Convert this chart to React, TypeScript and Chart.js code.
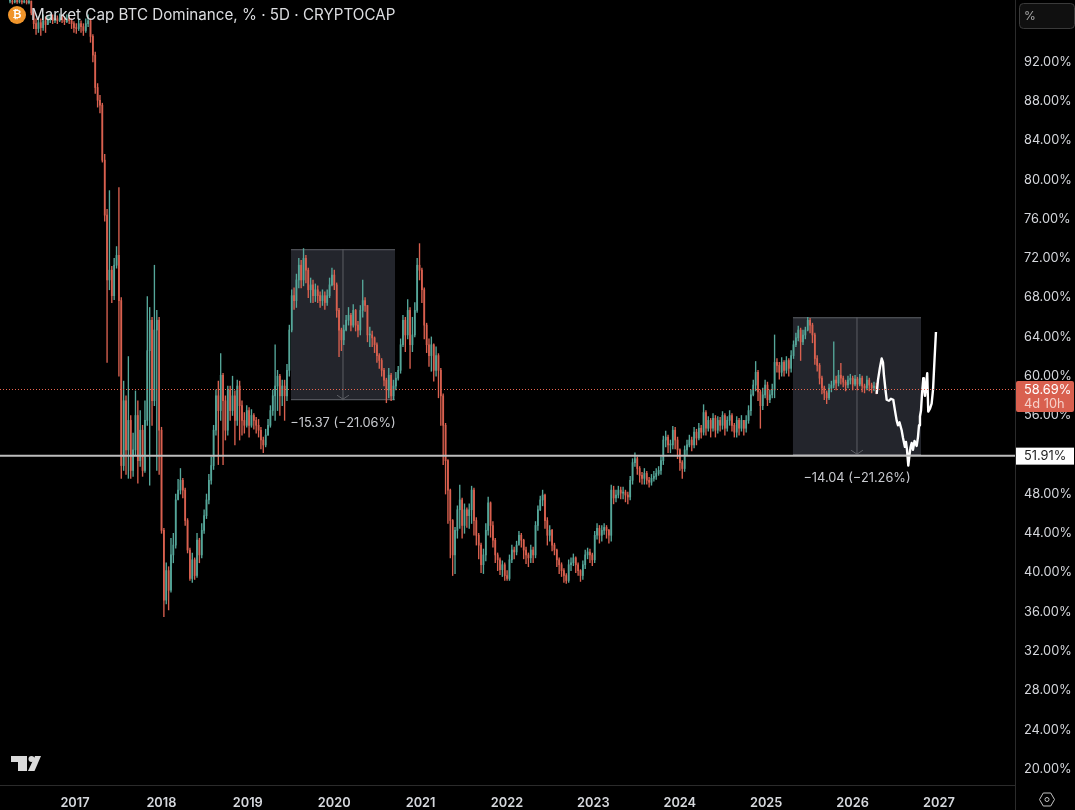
import React, { useEffect, useRef } from 'react';
import { Chart, registerables } from 'chart.js';

Chart.register(...registerables);

// 10-day candles, first one at firstCandleYear
const firstCandleYear = 2016.248;
const candleStep = 10 / 365;

const closes = [
  98.2, 98.1, 98.25, 98.15, 98.2, 98.1, 98.2, 98.05, 98.2, 97.0,
  95.9, 95.4, 96.0, 95.5, 96.2, 95.8, 96.3, 96.5, 96.2, 96.4,
  96.2, 96.5, 96.3, 96.1, 96.4, 96.2, 95.9, 95.5, 95.4, 95.9,
  95.6, 95.2, 95.9, 96.2, 94.6, 92.7, 89.4, 88.1, 87.6, 82.0,
  76.4, 69.8, 70.8, 68.2, 71.3, 72.3, 67.7, 50.9, 57.5, 52.5,
  55.5, 50.4, 52.5, 56.0, 51.4, 54.5, 50.4, 55.5, 62.6, 65.7,
  57.5, 64.7, 65.7, 54.5, 44.3, 37.2, 40.2, 38.2, 41.8, 42.8,
  47.4, 48.4, 49.4, 48.4, 45.3, 42.3, 39.4, 41.3, 39.7, 43.3,
  41.8, 44.3, 45.8, 47.4, 49.4, 50.9, 54.5, 58.0, 56.5, 60.1,
  57.5, 54.5, 58.6, 56.5, 58.0, 55.5, 59.0, 57.0, 55.5, 55.0,
  56.5, 55.0, 56.0, 55.5, 55.0, 54.5, 53.5, 53.0, 54.0, 55.0,
  56.5, 58.0, 59.0, 60.0, 58.0, 59.0, 58.0, 60.6, 64.7, 68.2,
  67.7, 69.8, 71.3, 69.8, 72.0, 70.8, 68.8, 69.3, 68.2, 68.8,
  68.2, 67.7, 68.2, 67.5, 68.2, 69.3, 70.3, 69.3, 66.7, 64.7,
  63.7, 64.7, 65.7, 66.2, 65.2, 66.7, 65.2, 64.7, 66.7, 67.7,
  67.2, 64.2, 64.2, 63.9, 63.2, 62.1, 61.6, 60.6, 59.6, 58.6,
  60.1, 58.0, 59.0, 59.8, 60.6, 63.2, 65.7, 64.2, 66.7, 63.2,
  64.2, 66.7, 71.3, 70.8, 68.8, 65.2, 63.2, 62.1, 63.2, 60.6,
  62.1, 60.6, 58.0, 55.0, 51.4, 48.4, 45.3, 41.8, 44.3, 46.4,
  47.4, 44.8, 46.4, 45.8, 46.4, 48.4, 45.3, 43.8, 42.8, 40.8,
  41.8, 44.3, 47.1, 44.8, 43.3, 41.8, 41.3, 40.3, 40.8, 39.7,
  39.4, 41.3, 42.3, 42.1, 42.8, 43.8, 43.3, 42.3, 41.8, 41.5,
  42.3, 41.8, 44.8, 46.4, 47.4, 47.9, 45.3, 43.8, 44.3, 42.8,
  42.3, 41.3, 40.8, 40.2, 39.7, 39.2, 40.8, 41.0, 41.5, 40.8,
  40.2, 39.7, 40.8, 41.8, 42.1, 41.8, 41.3, 43.8, 44.5, 43.8,
  44.3, 44.6, 44.3, 43.8, 48.4, 47.6, 47.9, 48.4, 48.1, 48.2,
  47.9, 47.7, 49.4, 51.2, 51.6, 50.6, 49.9, 49.6, 50.1, 49.4,
  49.2, 49.6, 49.8, 50.1, 50.4, 51.4, 53.5, 53.8, 53.0, 53.0,
  54.5, 53.5, 52.5, 51.2, 50.6, 52.5, 53.0, 53.5, 53.0, 54.3,
  53.7, 54.7, 54.3, 56.3, 54.7, 55.5, 54.7, 55.7, 54.5, 55.5,
  55.0, 56.0, 54.7, 55.5, 56.0, 55.0, 54.3, 55.5, 54.7, 55.5,
  54.7, 55.5, 56.5, 58.1, 59.1, 60.4, 58.4, 57.0, 58.1, 59.1,
  57.6, 58.1, 58.6, 61.4, 61.1, 60.4, 61.4, 60.6, 61.6, 60.8,
  62.1, 63.2, 63.9, 64.7, 63.5, 64.2, 64.7, 65.7, 65.2, 64.2,
  61.8, 61.1, 59.8, 58.8, 58.3, 57.8, 58.8, 59.1, 59.6, 59.3,
  60.1, 59.8, 59.4, 59.1, 59.6, 59.8, 59.2, 59.7, 59.2, 59.8,
  59.0, 58.8, 59.6, 59.1, 58.8, 59.0, 58.69,
];

const highs = [
  98.31, 98.31, 98.31, 98.31, 98.31, 98.31, 98.31, 98.31, 98.31, 98.2,
  97.2, 96.4, 96.6, 96.4, 96.8, 96.6, 96.7, 96.9, 96.8, 96.8,
  96.7, 96.9, 96.8, 96.6, 96.8, 96.7, 96.4, 96.1, 95.9, 96.4,
  96.2, 95.9, 96.4, 96.8, 96.4, 94.8, 93.0, 89.8, 88.6, 87.8,
  82.6, 77.0, 78.9, 71.2, 72.0, 73.2, 79.2, 68.0, 59.5, 58.0,
  62.0, 56.0, 54.2, 58.5, 57.5, 56.5, 55.0, 57.5, 68.1, 67.0,
  66.0, 71.3, 66.7, 66.0, 54.8, 44.5, 41.0, 40.6, 43.5, 44.0,
  48.0, 49.5, 50.6, 49.6, 48.6, 45.5, 42.5, 42.0, 41.5, 44.0,
  43.5, 45.0, 46.4, 48.0, 50.0, 51.8, 55.0, 58.6, 59.5, 62.3,
  60.3, 58.0, 59.0, 59.0, 60.0, 58.5, 59.6, 59.5, 57.5, 56.3,
  57.0, 56.8, 56.6, 56.2, 55.8, 55.6, 54.8, 53.8, 54.6, 55.6,
  57.0, 58.6, 63.2, 60.6, 60.2, 59.6, 59.6, 61.2, 65.2, 68.8,
  69.0, 70.4, 72.0, 71.8, 73.0, 72.3, 71.0, 70.0, 69.8, 69.4,
  69.2, 68.6, 68.8, 68.6, 68.8, 70.0, 71.0, 70.8, 69.5, 66.9,
  64.9, 65.2, 66.2, 67.0, 66.4, 67.3, 66.8, 65.6, 67.2, 69.8,
  68.0, 67.2, 65.0, 64.6, 64.0, 63.4, 62.3, 61.8, 60.8, 59.8,
  60.8, 60.3, 59.6, 60.4, 61.0, 63.8, 66.2, 66.0, 67.8, 67.0,
  66.0, 67.5, 72.0, 73.5, 71.0, 69.0, 65.4, 63.8, 64.0, 63.3,
  63.0, 62.3, 60.8, 58.2, 55.2, 51.5, 48.5, 45.4, 44.6, 46.8,
  48.9, 47.6, 47.0, 46.6, 47.0, 48.8, 48.6, 45.6, 44.0, 43.0,
  42.4, 45.0, 47.7, 47.2, 45.2, 43.5, 42.0, 41.5, 41.2, 41.0,
  40.2, 41.8, 42.8, 42.6, 43.2, 44.2, 44.0, 43.4, 42.6, 42.0,
  42.8, 42.6, 45.2, 46.8, 47.8, 48.4, 48.0, 45.6, 44.8, 44.4,
  43.0, 42.4, 41.5, 41.0, 40.4, 39.9, 41.3, 41.5, 41.9, 41.6,
  41.0, 40.3, 41.2, 42.3, 42.5, 42.4, 42.0, 44.2, 45.0, 44.8,
  44.8, 45.0, 44.8, 44.4, 48.9, 48.8, 48.4, 48.8, 48.7, 48.7,
  48.4, 48.2, 49.8, 51.6, 52.2, 51.8, 50.8, 50.2, 50.6, 50.3,
  49.7, 50.0, 50.3, 50.6, 50.8, 51.8, 53.9, 54.4, 54.0, 53.5,
  54.9, 54.8, 53.8, 52.6, 51.4, 52.9, 53.5, 54.0, 53.8, 54.8,
  54.6, 55.2, 55.0, 57.1, 56.5, 55.9, 55.7, 56.2, 56.0, 55.9,
  55.8, 56.4, 56.2, 55.9, 56.5, 56.2, 55.2, 55.9, 55.7, 56.0,
  55.5, 56.0, 57.0, 58.6, 59.6, 61.5, 60.6, 58.6, 58.8, 59.6,
  59.4, 58.6, 59.2, 64.2, 61.8, 61.4, 61.9, 61.6, 62.0, 61.8,
  62.6, 63.6, 64.4, 65.1, 64.9, 64.7, 65.0, 66.0, 65.9, 65.4,
  64.4, 62.1, 61.3, 60.0, 59.0, 58.5, 59.2, 59.5, 63.5, 60.0,
  60.6, 61.3, 60.0, 59.6, 60.0, 60.2, 60.0, 60.1, 59.9, 60.2,
  60.0, 59.2, 60.0, 59.8, 59.3, 59.4, 59.3,
];

const lows = [
  98.0, 97.9, 98.0, 97.95, 98.0, 97.9, 98.0, 97.9, 97.9, 96.8,
  95.4, 94.8, 95.0, 94.7, 95.2, 95.0, 95.9, 96.0, 95.9, 96.0,
  95.9, 96.1, 96.0, 95.8, 96.0, 95.9, 95.4, 95.0, 94.9, 95.2,
  95.0, 94.7, 95.0, 95.6, 94.0, 92.0, 88.8, 87.4, 86.8, 81.8,
  75.8, 61.4, 68.8, 67.5, 67.8, 71.0, 60.0, 49.6, 50.4, 50.0,
  49.6, 49.6, 49.8, 52.0, 49.1, 50.8, 49.8, 50.2, 55.0, 48.9,
  55.0, 57.0, 50.4, 50.0, 44.0, 35.5, 36.8, 36.2, 38.0, 41.0,
  42.5, 47.5, 48.0, 47.6, 44.8, 42.0, 39.2, 39.0, 39.3, 39.5,
  41.0, 41.5, 44.0, 45.5, 47.0, 49.0, 50.5, 54.0, 51.0, 55.5,
  51.0, 53.5, 54.0, 55.5, 56.0, 53.0, 55.0, 53.5, 54.0, 54.2,
  54.8, 53.8, 54.8, 54.6, 54.2, 53.8, 52.6, 52.2, 52.8, 54.0,
  54.8, 56.0, 55.5, 56.5, 56.0, 57.0, 55.5, 57.5, 60.0, 64.5,
  66.8, 67.0, 69.0, 69.0, 69.2, 69.5, 68.0, 67.5, 67.5, 67.6,
  67.5, 67.0, 67.2, 66.8, 67.2, 68.0, 69.2, 68.8, 66.0, 62.0,
  62.6, 63.2, 64.6, 65.2, 64.6, 65.0, 64.6, 64.0, 64.2, 66.0,
  66.6, 63.5, 63.0, 63.0, 62.4, 61.4, 60.8, 60.0, 59.0, 57.3,
  57.8, 57.5, 57.6, 58.6, 59.6, 60.3, 63.0, 62.5, 63.8, 60.8,
  62.5, 64.0, 66.5, 69.8, 67.5, 63.8, 62.4, 61.0, 60.5, 59.5,
  60.0, 57.8, 55.0, 51.0, 48.0, 45.0, 41.5, 39.7, 39.9, 43.5,
  44.5, 43.5, 44.0, 44.6, 44.5, 45.0, 43.8, 42.8, 41.4, 40.0,
  39.9, 41.2, 43.8, 43.6, 42.6, 41.0, 40.2, 39.8, 39.6, 39.2,
  39.2, 39.2, 41.0, 41.4, 41.8, 43.0, 42.6, 41.4, 40.9, 40.6,
  41.0, 41.0, 41.5, 44.3, 46.3, 46.8, 44.5, 42.8, 43.2, 42.2,
  41.8, 40.6, 39.9, 39.6, 39.0, 38.9, 39.0, 40.2, 40.7, 40.0,
  39.7, 39.1, 39.3, 40.4, 41.4, 41.0, 40.7, 41.0, 43.4, 43.0,
  43.2, 43.9, 43.5, 43.0, 43.2, 47.0, 47.2, 47.6, 47.5, 47.5,
  47.2, 47.0, 47.4, 49.0, 50.8, 50.0, 49.2, 49.0, 49.0, 49.0,
  48.7, 48.9, 49.3, 49.5, 49.9, 50.0, 51.0, 52.8, 52.2, 52.2,
  52.6, 52.6, 51.6, 50.4, 49.6, 50.3, 52.0, 52.8, 52.4, 52.7,
  53.0, 53.5, 53.7, 54.0, 54.0, 54.4, 53.8, 54.4, 53.8, 54.2,
  54.4, 54.6, 54.0, 54.4, 55.0, 54.4, 53.8, 53.8, 54.0, 54.4,
  54.0, 54.3, 55.2, 56.0, 58.0, 58.5, 57.5, 54.7, 56.6, 57.8,
  57.0, 57.3, 57.8, 57.8, 60.4, 59.7, 60.0, 60.0, 60.3, 60.0,
  60.4, 61.8, 63.0, 63.6, 61.6, 63.2, 63.8, 64.6, 64.4, 63.4,
  61.2, 60.5, 59.2, 58.2, 57.6, 57.2, 57.6, 58.4, 58.8, 58.6,
  59.0, 59.2, 58.9, 58.5, 58.8, 59.2, 58.6, 59.0, 58.6, 59.0,
  58.4, 58.3, 58.6, 58.5, 58.3, 58.5, 58.2,
];

// hand drawn forecast line
const forecastYears = [
  2026.279, 2026.294, 2026.317, 2026.337, 2026.352, 2026.363, 2026.381, 2026.395, 2026.421, 2026.444,
  2026.471, 2026.491, 2026.51, 2026.525, 2026.543, 2026.568, 2026.584, 2026.606, 2026.618, 2026.63,
  2026.645, 2026.659, 2026.67, 2026.684, 2026.699, 2026.717, 2026.742, 2026.757, 2026.769, 2026.78,
  2026.792, 2026.803, 2026.818, 2026.826, 2026.838, 2026.85, 2026.864, 2026.876, 2026.896, 2026.915,
  2026.931, 2026.948, 2026.965,
];
const forecastValues = [
  58.2, 59.6, 60.9, 61.8, 61.4, 60.1, 58.6, 57.6, 57.5, 57.7,
  57.6, 56.5, 55.5, 55.0, 55.3, 54.5, 53.7, 52.8, 53.3, 52.5,
  50.9, 52.0, 52.7, 53.2, 52.5, 53.4, 52.9, 53.8, 55.0, 55.9,
  56.5, 58.1, 59.8, 59.1, 58.0, 59.1, 60.3, 56.4, 56.7, 57.2,
  58.6, 61.6, 64.5,
];

const yearTicks = [2017, 2018, 2019, 2020, 2021, 2022, 2023, 2024, 2025, 2026, 2027];
const percentTicks = [20, 24, 28, 32, 36, 40, 44, 48, 52, 56, 60, 64, 68, 72, 76, 80, 84, 88, 92];

const lastPrice = 58.69;
const levelPrice = 51.91;

// the two "price range" drawings
const rangeStarts = [2019.5, 2025.31];
const rangeEnds = [2020.704, 2026.792];
const rangeTops = [72.93, 66.0];
const rangeBottoms = [57.56, 51.96];
const rangeLabels = ['\u221215.37 (\u221221.06%)', '\u221214.04 (\u221221.26%)'];

const RED = '#d9604f';
const GREEN = '#55a699';
const FONT = 'Inter, "Liberation Sans", sans-serif';

const candleYears = closes.map((_, i) => firstCandleYear + i * candleStep);
const opens = closes.map((c, i) => (i === 0 ? c : closes[i - 1]));
const candleColors = closes.map((c, i) => (c >= opens[i] ? GREEN : RED));

const noAxisPadding = (s: any) => {
  s.paddingLeft = 0;
  s.paddingRight = 0;
  s.paddingTop = 0;
  s.paddingBottom = 0;
};

const decorations = {
  id: 'decorations',
  beforeDraw(chart: any) {
    const { ctx, width, height } = chart;
    ctx.save();
    ctx.fillStyle = '#000';
    ctx.fillRect(0, 0, width, height);
    ctx.restore();
  },
  beforeDatasetsDraw(chart: any) {
    const { ctx, scales } = chart;
    const { x, y } = scales;
    ctx.save();
    rangeStarts.forEach((start, i) => {
      const left = x.getPixelForValue(start);
      const right = x.getPixelForValue(rangeEnds[i]);
      const top = y.getPixelForValue(rangeTops[i]);
      const bottom = y.getPixelForValue(rangeBottoms[i]);
      const mid = (left + right) / 2;
      ctx.fillStyle = '#23252c';
      ctx.fillRect(left, top, right - left, bottom - top);
      ctx.strokeStyle = '#5c5e64';
      ctx.lineWidth = 1;
      ctx.beginPath();
      ctx.moveTo(left, top + 0.5);
      ctx.lineTo(right, top + 0.5);
      ctx.moveTo(left, bottom - 0.5);
      ctx.lineTo(right, bottom - 0.5);
      ctx.moveTo(mid, top);
      ctx.lineTo(mid, bottom);
      ctx.moveTo(mid - 6, bottom - 5);
      ctx.lineTo(mid, bottom - 1);
      ctx.lineTo(mid + 6, bottom - 5);
      ctx.stroke();
    });
    ctx.restore();
  },
  afterDatasetsDraw(chart: any) {
    const { ctx, scales, chartArea } = chart;
    const { x, y } = scales;
    ctx.save();
    // last price and horizontal level
    ctx.strokeStyle = '#e8654f';
    ctx.lineWidth = 1;
    ctx.setLineDash([1, 2]);
    ctx.beginPath();
    ctx.moveTo(chartArea.left, Math.round(y.getPixelForValue(lastPrice)) + 0.5);
    ctx.lineTo(chartArea.right, Math.round(y.getPixelForValue(lastPrice)) + 0.5);
    ctx.stroke();
    ctx.setLineDash([]);
    ctx.strokeStyle = '#bdbdbd';
    ctx.lineWidth = 2;
    ctx.beginPath();
    ctx.moveTo(chartArea.left, y.getPixelForValue(levelPrice));
    ctx.lineTo(chartArea.right, y.getPixelForValue(levelPrice));
    ctx.stroke();
    // range labels
    ctx.font = `12.8px ${FONT}`;
    ctx.fillStyle = '#c9cbd0';
    ctx.textAlign = 'center';
    ctx.textBaseline = 'middle';
    rangeLabels.forEach((label, i) => {
      const mid = (x.getPixelForValue(rangeStarts[i]) + x.getPixelForValue(rangeEnds[i])) / 2;
      ctx.fillText(label, mid, y.getPixelForValue(rangeBottoms[i]) + 22.5);
    });
    ctx.restore();
  },
  afterDraw(chart: any) {
    const { ctx, scales, chartArea } = chart;
    const { y } = scales;
    const axisX = chartArea.right;
    ctx.save();
    ctx.textBaseline = 'middle';

    // legend line top left
    ctx.fillStyle = '#f0952b';
    ctx.beginPath();
    ctx.arc(17, 15, 9, 0, Math.PI * 2);
    ctx.fill();
    ctx.fillStyle = '#fff';
    ctx.font = `bold 11px "DejaVu Sans", sans-serif`;
    ctx.textAlign = 'center';
    ctx.fillText('\u20bf', 17, 15.5);
    ctx.fillStyle = '#dcdde0';
    ctx.font = `15.2px ${FONT}`;
    ctx.textAlign = 'left';
    ctx.fillText('Market Cap BTC Dominance, % \u00b7 5D \u00b7 CRYPTOCAP', 31, 15.5);

    // % button
    ctx.fillStyle = '#101010';
    ctx.strokeStyle = '#3a3a3a';
    ctx.lineWidth = 1;
    ctx.beginPath();
    ctx.roundRect(1019.5, 3.5, 55, 25, 4);
    ctx.fill();
    ctx.stroke();
    ctx.fillStyle = '#a8a8a8';
    ctx.font = `12px ${FONT}`;
    ctx.fillText('%', 1024, 16);

    // last price badge
    ctx.fillStyle = RED;
    ctx.beginPath();
    ctx.roundRect(axisX + 1, 381, 58, 31, 2);
    ctx.fill();
    ctx.fillStyle = '#fff';
    ctx.font = `12.8px ${FONT}`;
    ctx.fillText(`${lastPrice.toFixed(2)}%`, 1024, 390);
    ctx.fillStyle = '#f6d0c9';
    ctx.fillText('4d 10h', 1024, 404);

    // level badge
    ctx.fillStyle = '#fff';
    ctx.fillRect(axisX + 1, y.getPixelForValue(levelPrice) - 8, 58, 17);
    ctx.fillStyle = '#222';
    ctx.fillText(`${levelPrice.toFixed(2)}%`, 1024, y.getPixelForValue(levelPrice) + 1);

    // axis line carries on to the bottom
    ctx.strokeStyle = '#2b2b2b';
    ctx.beginPath();
    ctx.moveTo(axisX + 0.5, chartArea.bottom);
    ctx.lineTo(axisX + 0.5, 810);
    ctx.stroke();

    // settings icon
    ctx.strokeStyle = '#c4c4c4';
    ctx.beginPath();
    for (let a = 0; a < 6; a++) {
      const px = 1047 + 7.5 * Math.cos((a * Math.PI) / 3);
      const py = 799.5 + 7.5 * Math.sin((a * Math.PI) / 3);
      if (a === 0) ctx.moveTo(px, py);
      else ctx.lineTo(px, py);
    }
    ctx.closePath();
    ctx.stroke();
    ctx.beginPath();
    ctx.arc(1047, 799.5, 2, 0, Math.PI * 2);
    ctx.stroke();

    // TV logo
    ctx.fillStyle = '#dadada';
    ctx.fillRect(11, 756, 16, 6);
    ctx.fillRect(18, 762, 9, 9);
    ctx.beginPath();
    ctx.arc(31.5, 759, 3, 0, Math.PI * 2);
    ctx.fill();
    ctx.beginPath();
    ctx.moveTo(35, 756);
    ctx.lineTo(41, 756);
    ctx.lineTo(34.5, 771);
    ctx.lineTo(28, 771);
    ctx.closePath();
    ctx.fill();
    ctx.restore();
  },
};

const App = () => {
  const chartRef = useRef<HTMLCanvasElement>(null);
  const chartInstance = useRef<Chart | null>(null);

  useEffect(() => {
    if (!chartRef.current) return;
    if (chartInstance.current) chartInstance.current.destroy();

    chartInstance.current = new Chart(chartRef.current, {
      type: 'bar',
      data: {
        datasets: [
          {
            type: 'line',
            data: forecastYears.map((yr, i) => ({ x: yr, y: forecastValues[i] })),
            borderColor: '#ffffff',
            borderWidth: 2.4,
            borderJoinStyle: 'round',
            pointRadius: 0,
            tension: 0,
            order: 1,
          },
          {
            data: candleYears.map((yr, i) => ({ x: yr, y: [opens[i], closes[i]] })),
            backgroundColor: candleColors,
            barThickness: 1.1,
            minBarLength: 1,
            grouped: false,
            order: 2,
          },
          {
            data: candleYears.map((yr, i) => ({ x: yr, y: [lows[i], highs[i]] })),
            backgroundColor: candleColors,
            barThickness: 0.7,
            grouped: false,
            order: 3,
          },
        ] as any,
      },
      options: {
        responsive: false,
        animation: false,
        layout: { padding: 0 },
        plugins: { legend: { display: false }, tooltip: { enabled: false } },
        scales: {
          x: {
            type: 'linear',
            offset: false,
            min: 2016.132,
            max: 2027.88,
            grid: { display: false },
            border: { color: '#2b2b2b' },
            afterBuildTicks: (s: any) => {
              s.ticks = yearTicks.map((v) => ({ value: v }));
            },
            afterFit: (s: any) => {
              s.height = 25;
              noAxisPadding(s);
            },
            ticks: {
              color: '#d6d8dd',
              font: { family: FONT, size: 12.8, weight: 600 },
              padding: 2,
              maxRotation: 0,
              autoSkip: false,
              callback: (v: any) => String(v),
            },
          },
          y: {
            position: 'right',
            min: 18.37,
            max: 98.31,
            grid: { display: false },
            border: { color: '#2b2b2b' },
            afterBuildTicks: (s: any) => {
              s.ticks = percentTicks.map((v) => ({ value: v }));
            },
            afterFit: (s: any) => {
              s.width = 60;
              noAxisPadding(s);
            },
            ticks: {
              color: '#d6d8dd',
              font: { family: FONT, size: 12.8 },
              padding: 1,
              autoSkip: false,
              callback: (v: any) => `${Number(v).toFixed(2)}%`,
            },
          },
        },
      },
      plugins: [decorations],
    });

    return () => {
      if (chartInstance.current) {
        chartInstance.current.destroy();
        chartInstance.current = null;
      }
    };
  }, []);

  return (
    <div style={{ position: 'absolute', left: 0, top: 0, width: 1075, height: 810, background: '#000' }}>
      <canvas ref={chartRef} width={1075} height={810} style={{ display: 'block' }}></canvas>
    </div>
  );
};

export default App;
